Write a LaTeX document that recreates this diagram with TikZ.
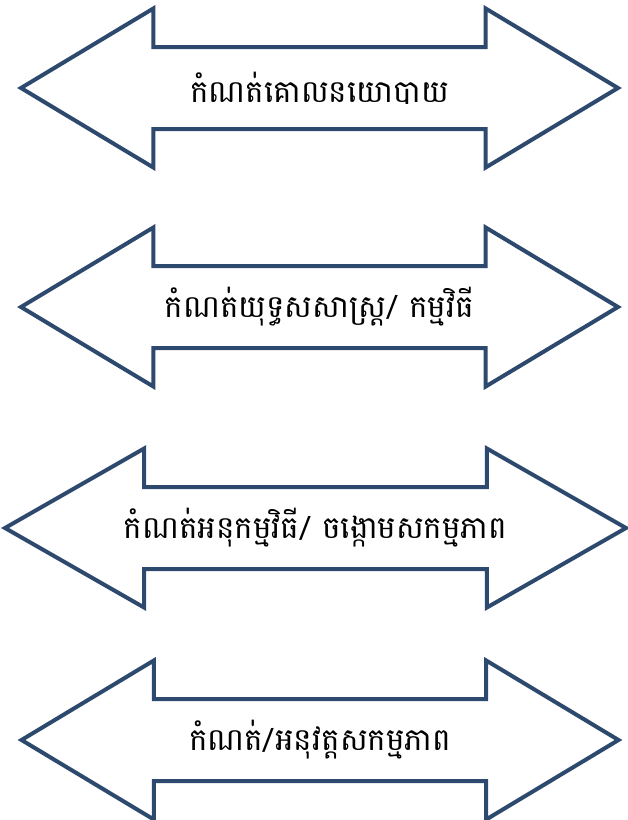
\documentclass[tikz,border=0pt]{standalone}
\usepackage{fontspec}
\newfontfamily\khmerfont[Script=Khmer]{Battambang}
\usetikzlibrary{shapes.arrows}
\definecolor{arrowblue}{RGB}{45,73,110}

\begin{document}
\begin{tikzpicture}[x=1pt,y=-1pt,
  twoway/.style={double arrow,draw=arrowblue,line width=4pt,
    double arrow head extend=38.5pt,double arrow head indent=0pt,
    double arrow tip angle=62,minimum height=597pt,
    inner xsep=0pt,inner ysep=39pt},
  caption/.style={font=\khmerfont\fontsize{31}{36}\selectfont,inner sep=0pt}]
\useasboundingbox (0,0) rectangle (628,820);

\node[twoway] (policy) at (319.5,88) {};
\node[twoway] (strategy) at (319.5,307) {};
\node[twoway,minimum height=621pt,double arrow tip angle=59.5] (program) at (315.5,528) {};
\node[twoway] (action) at (320,740) {};

\node[caption] (policytext) at (policy) {កំណត់គោលនយោបាយ};
\node[caption] (strategytext) at (strategy) {កំណត់យុទ្ធសសាស្ត្រ/ កម្មវិធី};
\node[caption] (programtext) at (program) {កំណត់អនុកម្មវិធី/ ចង្កោមសកម្មភាព};
\node[caption] (actiontext) at (action) {កំណត់/អនុវត្តសកម្មភាព};
\end{tikzpicture}
\end{document}
